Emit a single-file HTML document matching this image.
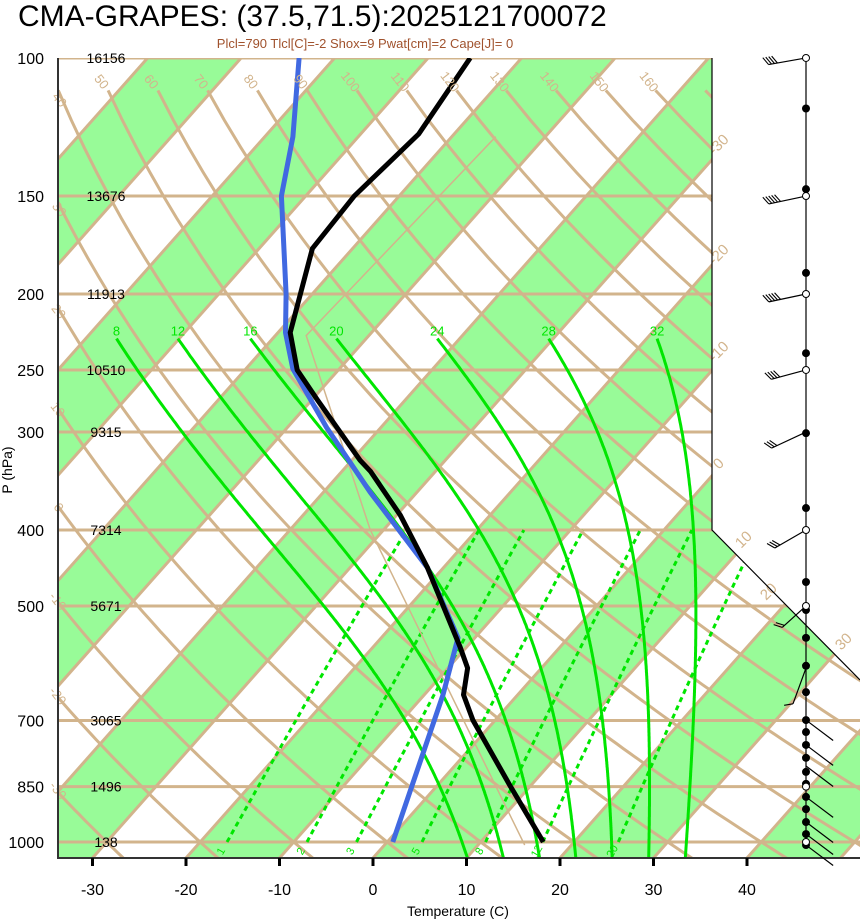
<!DOCTYPE html>
<html><head><meta charset="utf-8"><style>
html,body{margin:0;padding:0;background:#fff;}
svg{display:block;font-family:"Liberation Sans",sans-serif;}
</style></head><body>
<svg id="chart" width="860" height="921" viewBox="0 0 860 921" xmlns="http://www.w3.org/2000/svg">
<defs><clipPath id="plotclip"><polygon points="58,58 712,58 712,530 860,680 860,858 58,858"/></clipPath></defs>
<text x="18" y="26" font-size="30" fill="#000">CMA-GRAPES: (37.5,71.5):2025121700072</text>
<text x="365" y="48" font-size="13" fill="#a0522d" text-anchor="middle">Plcl=790 Tlcl[C]=-2 Shox=9 Pwat[cm]=2 Cape[J]= 0</text>
<g id="bg" clip-path="url(#plotclip)"></g>
<g id="fg"></g>
</svg>
<script>
// ---- data ----
const isobarLevels=[100,150,200,250,300,400,500,700,850,1000];
const heightLabels=["16156","13676","11913","10510","9315","7314","5671","3065","1496","138"];
const tempTicks=[-30,-20,-10,0,10,20,30,40];
const thetaValues=[-40,-30,-20,-10,0,10,20,30,40,50,60,70,80,90,100,110,120,130,140,150,160,170];
const moistValues=[8,12,16,20,24,28,32];
const mixValues=[1,2,3,5,8,12,20];
const tempP=[100,125,150,175,224,250,273,326,337,383,446,564,600,649,699,846,1000];
const tempT=[-65.5,-63.8,-64.8,-64.3,-58.7,-54.4,-49.4,-39.1,-36.9,-29.6,-21.8,-10.7,-7.9,-5.8,-2.4,7.7,16.7];
const dewP=[100,126,150,200,224,249,296,358,447,549,649,1000];
const dewT=[-83.8,-77.0,-72.6,-62.8,-59.2,-55.0,-45.8,-35.0,-21.7,-11.8,-8.0,0.6];
const parcelP=[1009,400,226,126];
const parcelT=[15.0,-31.4,-56.7,-55.3];
const filledDotP=[116,147,188,238,301,375,466,506,549,596,644,699,724,752,781,814,843,876,908,943,977,1009];
const openDotP=[100,150,200,250,400,500,850,1000];
const windP=[100,150,200,250,300,400,500,600,699,752,800,876,943,977,1009];
const windDir=[170,168,168,165,155,150,138,110,37,37,37,37,37,37,37];
const windLen=[38,38,38,36,38,36,32,38,34,34,34,34,34,34,34];
const windFeathers=[4,5,5,4,3,3,2,1,0,0,0,0,0,0,0];

// ---- axis functions ----
const NS="http://www.w3.org/2000/svg";
function yP(p){return 842-340.5*Math.log(1000/p);}
function xT(T,p){return 373+9.35*T+(858-yP(p))*0.887;}
const bg=document.getElementById('bg'), fg=document.getElementById('fg');
function el(tag,attrs,parent){const e=document.createElementNS(NS,tag);for(const k in attrs)e.setAttribute(k,attrs[k]);(parent||fg).appendChild(e);return e;}
function pts(arr){return arr.map(a=>a[0].toFixed(1)+','+a[1].toFixed(1)).join(' ');}
const TAN="#d2b48c", GRN="#00e600";

for(let t0=-120;t0<=60;t0+=20){
  const a=[[xT(t0,1050),yP(1050)],[xT(t0+10,1050),yP(1050)],[xT(t0+10,90),yP(90)],[xT(t0,90),yP(90)]];
  const b=el('polygon',{points:pts(a),fill:'#98fb98',stroke:'none'},bg);
  
  
}
isobarLevels.forEach((p,i)=>{
  const l=el('line',{x1:58,x2:860,y1:yP(p),y2:yP(p),stroke:TAN,'stroke-width':3},bg);
  
  
});
for(let t=-120;t<=60;t+=10){
  const l=el('line',{x1:xT(t,1050),y1:yP(1050),x2:xT(t,90),y2:yP(90),stroke:TAN,'stroke-width':3},bg);
  
  
}
function dryT(th,p){return (th+273.15)*Math.pow(p/1000,0.2857)-273.15;}
thetaValues.forEach(th=>{
  const a=[];for(let p=1050;p>=110;p-=10)a.push([xT(dryT(th,p),p),yP(p)]);
  const l=el('polyline',{points:pts(a),fill:'none',stroke:TAN,'stroke-width':3},bg);
  
  
  let lx=xT(dryT(th,110),110), ly=yP(110);
  if(lx<64){
    let p=110;while(p<1050&&xT(dryT(th,p),p)<64)p+=2;
    lx=xT(dryT(th,p),p);ly=yP(p);
  }
  if(lx>=58&&lx<700&&ly<850){
    const t=el('text',{x:lx-10,y:ly-6,'font-size':13,fill:TAN,'text-anchor':'middle',transform:`rotate(52 ${lx-10} ${ly-6})`});
    t.textContent=th;
    
    
  }
});
[[-30,148,722],[-20,258,722],[-10,355,722],[0,467,722],[10,543,747],[20,595,772],[30,645,847]].forEach(d=>{
  const t=el('text',{x:d[2],y:d[1],'font-size':15,fill:TAN,'text-anchor':'middle',transform:`rotate(-45 ${d[2]} ${d[1]})`});
  t.textContent=d[0];
  
  
});
function tdFromW(w,p){const e=w*p/(622+w);const l=Math.log(e/6.112);return 243.5*l/(17.67-l);}
mixValues.forEach(w=>{
  const a=[];for(let p=1000;p>=400;p-=10)a.push([xT(tdFromW(w,p),p),yP(p)]);
  const l=el('polyline',{points:pts(a),fill:'none',stroke:GRN,'stroke-width':3,'stroke-dasharray':'5,4'},bg);
  
  
  const x=xT(tdFromW(w,1000),1000)-3, y=853;
  const t=el('text',{x:x,y:y,'font-size':11,fill:GRN,'text-anchor':'middle',transform:`rotate(-60 ${x} ${y})`},bg);
  t.textContent=w;
  
  
});
function esat(T){return 6.112*Math.exp(17.67*T/(T+243.5));}
function moistSlope(Tc,p){const T=Tc+273.15,Rd=287,Lv=2.5e6,cp=1005,eps=0.622;const rs=eps*esat(Tc)/(p-esat(Tc));
  return (Rd*T+Lv*rs)/(p*(cp+Lv*Lv*rs*eps/(Rd*T*T)));}
moistValues.forEach(tw=>{
  let T=tw,p=1000;
  for(p=1000;p<1050;p+=2){T+=moistSlope(T,p)*2;}
  const a=[[xT(T,1050),yP(1050)]];
  T=tw;const up=[[xT(tw,1000),yP(1000)]];
  for(p=1000;p>228;p-=2){T-=moistSlope(T,p)*2;up.push([xT(T,p-2),yP(p-2)]);}
  const all=a.concat(up);
  const l=el('polyline',{points:pts(all),fill:'none',stroke:GRN,'stroke-width':3},bg);
  
  
  const last=up[up.length-1];
  const t=el('text',{x:last[0],y:last[1]-3,'font-size':13,fill:GRN,'text-anchor':'middle'});
  t.textContent=tw;
  
  
});
{const l=el('polyline',{points:pts(parcelP.map((p,i)=>[xT(parcelT[i],p),yP(p)])),fill:'none',stroke:TAN,'stroke-width':1.5},bg);

}
{const l=el('polyline',{points:pts(dewP.map((p,i)=>[xT(dewT[i],p),yP(p)])),fill:'none',stroke:'#4169e1','stroke-width':5,'stroke-linejoin':'round'},bg);

}
{const l=el('polyline',{points:pts(tempP.map((p,i)=>[xT(tempT[i],p),yP(p)])),fill:'none',stroke:'#000','stroke-width':5,'stroke-linejoin':'round'},bg);

}
{const b=el('polyline',{points:"712,58 712,530 860,680",fill:'none',stroke:'#000','stroke-width':1.2});

}
{const a=el('polyline',{points:"58,58 58,858 860,858",fill:'none',stroke:'#333','stroke-width':2});

}
isobarLevels.forEach((p,i)=>{
  const t=el('text',{x:44,y:yP(p)+6,'font-size':16,fill:'#000','text-anchor':'end'});
  t.textContent=p;
  
  
  const h=el('text',{x:106,y:yP(p)+5,'font-size':14,fill:'#000','text-anchor':'middle'});
  h.textContent=heightLabels[i];
  
  
});
tempTicks.forEach(t=>{
  const x=373+9.35*t;
  const k=el('line',{x1:x,x2:x,y1:858,y2:866,stroke:'#000','stroke-width':3});
  
  
  const s=el('text',{x:x,y:895,'font-size':16,fill:'#000','text-anchor':'middle'});
  s.textContent=t;
  
  
});
{const t=el('text',{x:458,y:916,'font-size':14,fill:'#000','text-anchor':'middle'});t.textContent='Temperature (C)';

}
{const t=el('text',{x:12,y:470,'font-size':14,fill:'#000','text-anchor':'middle',transform:'rotate(-90 12 470)'});t.textContent='P (hPa)';

}
const WX=806;
{const l=el('line',{x1:WX,x2:WX,y1:58,y2:848,stroke:'#000','stroke-width':1.2});

}
windP.forEach((p,i)=>{
  const y=yP(p),a=windDir[i]*Math.PI/180,L=windLen[i];
  const ex=WX+L*Math.cos(a),ey=y+L*Math.sin(a);
  const g=el('g',{});
  
  
  el('line',{x1:WX,y1:y,x2:ex,y2:ey,stroke:'#000','stroke-width':1.2},g);
  const fa=a+60*Math.PI/180;
  for(let k=0;k<windFeathers[i];k++){
    const sx=ex-k*3*Math.cos(a),sy=ey-k*3*Math.sin(a);
    el('line',{x1:sx,y1:sy,x2:sx+9*Math.cos(fa),y2:sy+9*Math.sin(fa),stroke:'#000','stroke-width':1.1},g);
  }
});
filledDotP.forEach(p=>{
  const c=el('circle',{cx:WX,cy:yP(p),r:4,fill:'#000'});
  
  
});
openDotP.forEach(p=>{
  const c=el('circle',{cx:WX,cy:yP(p),r:3.5,fill:'#fff',stroke:'#000','stroke-width':1});
  
  
});
</script>
</body></html>
